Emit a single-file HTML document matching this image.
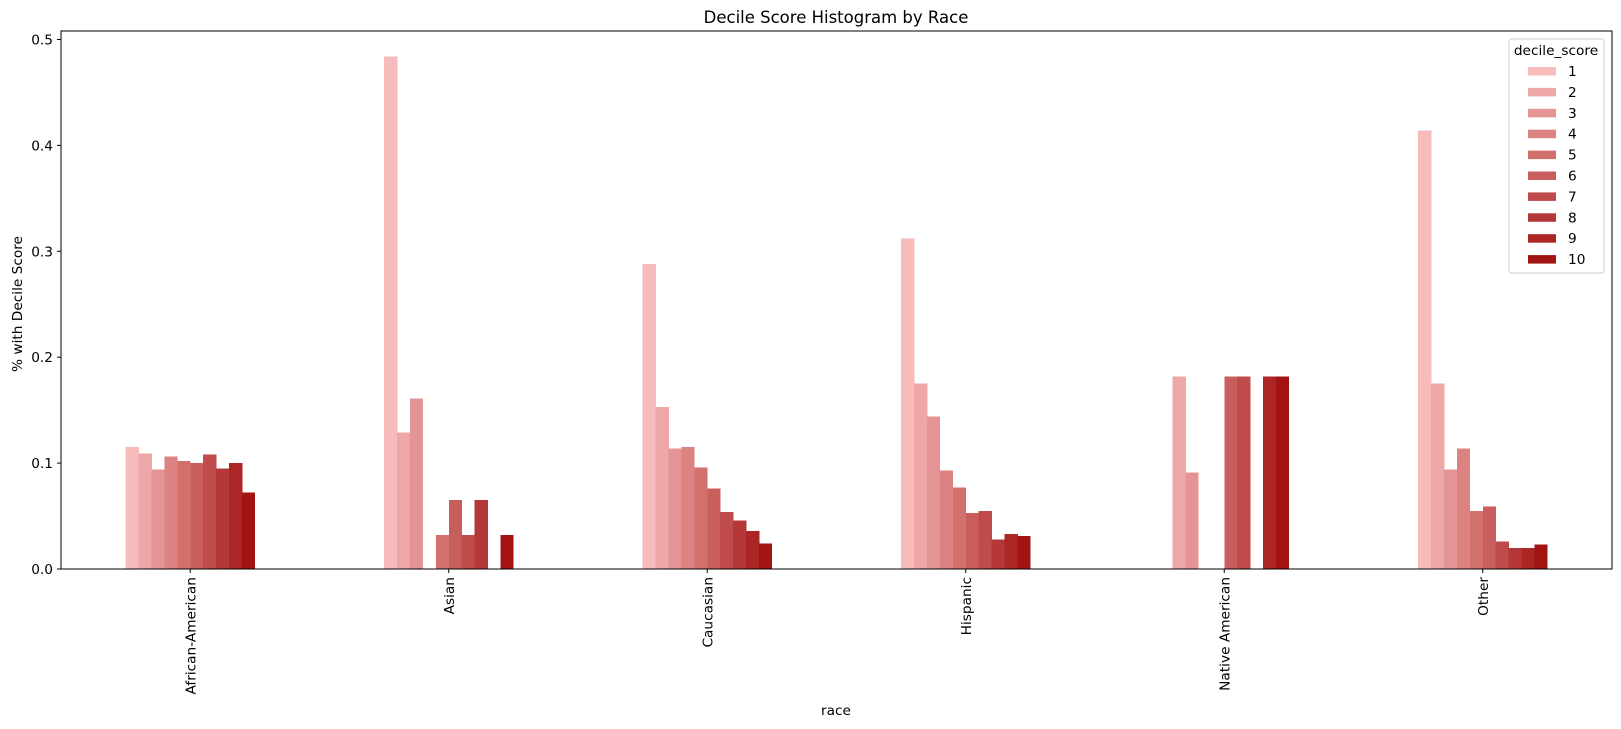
<!DOCTYPE html>
<html><head><meta charset="utf-8">
<style>
body{margin:0;background:#fff;}
svg{display:block;font-family:"DejaVu Sans","Liberation Sans",sans-serif;}
</style></head>
<body>
<svg id="chart" width="1621" height="729" viewBox="0 0 1621 729" xmlns="http://www.w3.org/2000/svg">
<text x="836" y="23" text-anchor="middle" font-size="16.5">Decile Score Histogram by Race</text>
<text transform="translate(22,304) rotate(-90)" text-anchor="middle" font-size="13.7">% with Decile Score</text>
<text x="836" y="715" text-anchor="middle" font-size="13.7">race</text>
<g id="bars"></g>
<g id="axes"></g>
<g id="legend"></g>
</svg>
<script>
const categories=["African-American","Asian","Caucasian","Hispanic","Native American","Other"];
const deciles=["1","2","3","4","5","6","7","8","9","10"];
const vAA=[0.115,0.109,0.094,0.106,0.102,0.100,0.108,0.095,0.100,0.072];
const vAsian=[0.484,0.129,0.161,0,0.032,0.065,0.032,0.065,0,0.032];
const vCauc=[0.288,0.153,0.114,0.115,0.096,0.076,0.054,0.046,0.036,0.024];
const vHisp=[0.312,0.175,0.144,0.093,0.077,0.053,0.055,0.028,0.033,0.031];
const vNative=[0,0.182,0.091,0,0,0.182,0.182,0,0.182,0.182];
const vOther=[0.414,0.175,0.094,0.114,0.055,0.059,0.026,0.020,0.020,0.023];
const yTicks=[0,0.1,0.2,0.3,0.4,0.5];
const colors=["#f8bbbb","#eea7a7","#e49494","#dc8280","#d2706c","#c95f5c","#bf4b4a","#b43838","#ad2626","#a11412"];
const series=[vAA,vAsian,vCauc,vHisp,vNative,vOther];
const NS="http://www.w3.org/2000/svg";
const L=61,R=1612,T=31,B=569;
const yMax=0.508;
const band=(R-L)/categories.length;
function xCenter(i){return L+band*(i+0.5);}
function yPos(v){return B-(v/yMax)*(B-T);}
const bw=band*0.5/deciles.length;
function mk(tag,attrs,parent){const e=document.createElementNS(NS,tag);for(const k in attrs)e.setAttribute(k,attrs[k]);parent.appendChild(e);return e;}
const gb=document.getElementById('bars');
series.forEach((vals,ci)=>{
  vals.forEach((v,di)=>{
    const x=xCenter(ci)-band*0.25+di*bw;
    const r=mk('rect',{x:x,y:yPos(v),width:bw+0.3,height:B-yPos(v),fill:colors[di],'shape-rendering':'crispEdges'},gb);
    
    
  });
});
const ga=document.getElementById('axes');
const frame=mk('rect',{x:L,y:T,width:R-L,height:B-T,fill:'none',stroke:'#000','stroke-width':1},ga);


yTicks.forEach(t=>{
  const y=yPos(t);
  mk('line',{x1:L-4,x2:L,y1:y,y2:y,stroke:'#000'},ga);
  const tx=mk('text',{x:L-8,y:y+5,'text-anchor':'end','font-size':'13.7'},ga);
  tx.textContent=t.toFixed(1);
  
  
});
categories.forEach((c,i)=>{
  const x=xCenter(i);
  mk('line',{x1:x,x2:x,y1:B,y2:B+4,stroke:'#000'},ga);
  const tx=mk('text',{transform:`translate(${x+5},${B+8}) rotate(-90)`,'text-anchor':'end','font-size':'13.7'},ga);
  tx.textContent=c;
  
  
});
const gl=document.getElementById('legend');
const box=mk('rect',{x:1509,y:39,width:95,height:234,rx:3,fill:'#fff','fill-opacity':0.8,stroke:'#ccc'},gl);


const lt=mk('text',{x:1556,y:55,'text-anchor':'middle','font-size':'13.7'},gl);
lt.textContent='decile_score';


deciles.forEach((d,i)=>{
  const y=71+i*20.9;
  const p=mk('rect',{x:1528,y:y-4,width:28,height:8.5,fill:colors[i]},gl);
  
  
  const t=mk('text',{x:1568,y:y+5,'font-size':'13.7'},gl);
  t.textContent=d;
  
  
});
</script>
</body></html>
